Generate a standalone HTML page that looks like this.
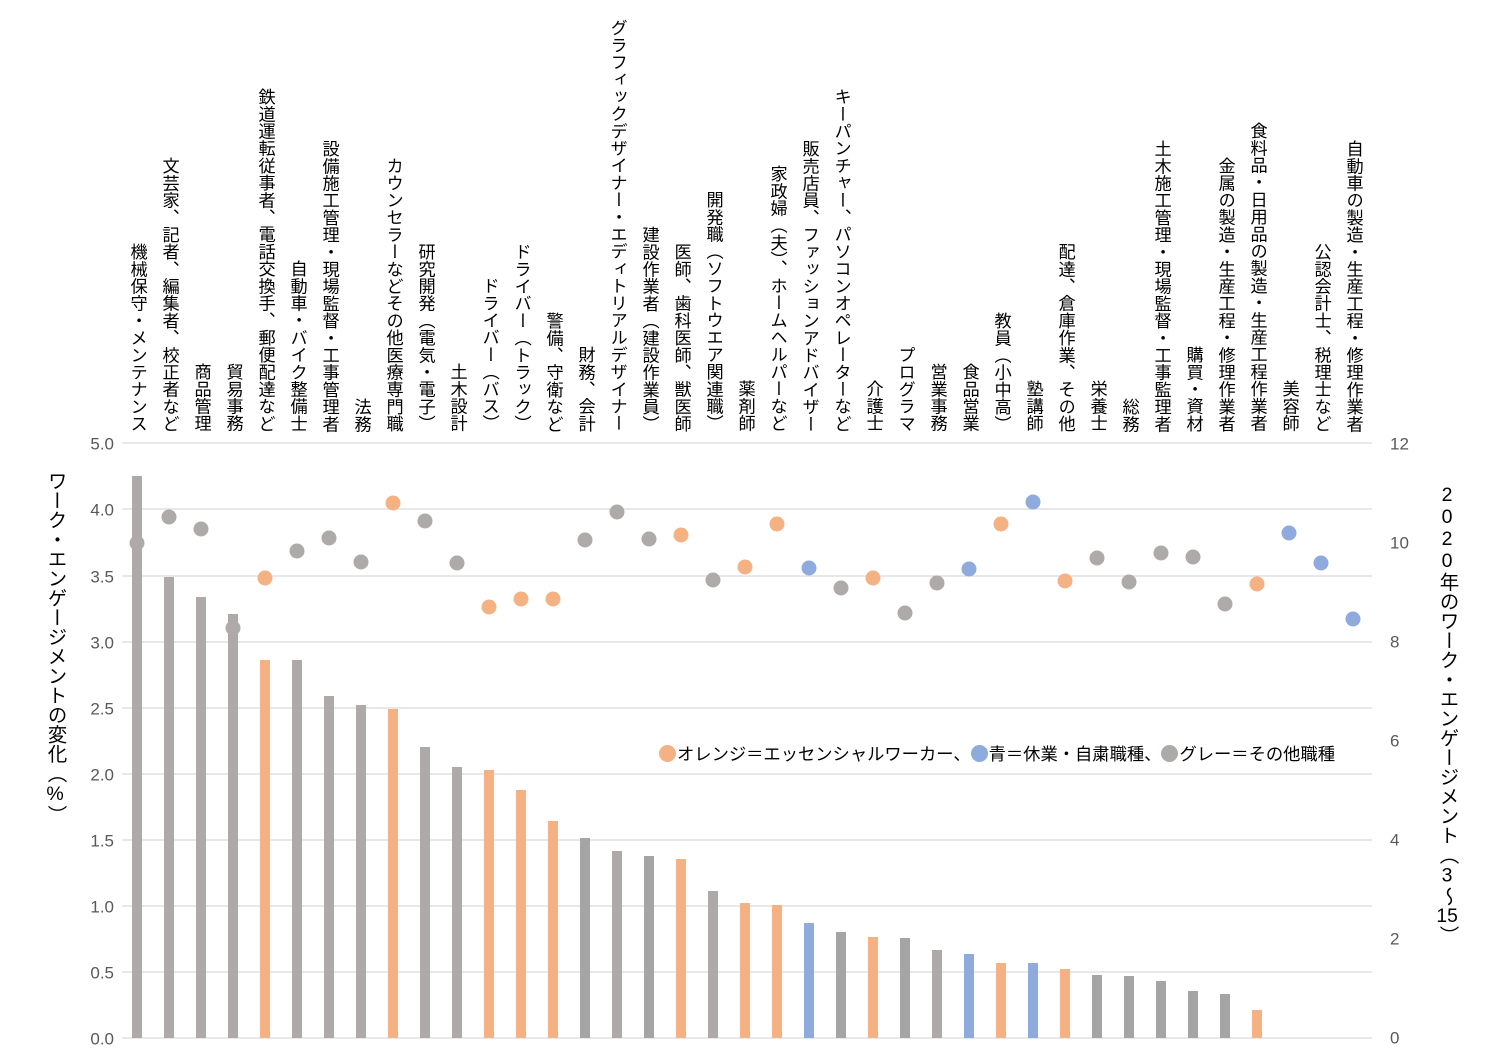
<!DOCTYPE html>
<html lang="ja">
<head>
<meta charset="utf-8">
<style>
  html,body{margin:0;padding:0;background:#fff;}
  body{width:1500px;height:1057px;position:relative;overflow:hidden;
       font-family:"Liberation Sans","Noto Sans CJK JP",sans-serif;}
  svg{position:absolute;left:0;top:0;}
  .cat{position:absolute;bottom:625px;writing-mode:vertical-rl;text-orientation:upright;
       font-family:"Liberation Sans","Noto Sans CJK JP",sans-serif;font-size:17.2px;line-height:17.2px;
       width:17.2px;color:#000;white-space:nowrap;}
  .title{position:absolute;writing-mode:vertical-rl;text-orientation:upright;
       font-family:"Liberation Sans","Noto Sans CJK JP",sans-serif;font-size:19.5px;line-height:20px;
       width:20px;color:#000;white-space:nowrap;}
  .tcu{text-combine-upright:all;}
  .legend{position:absolute;left:659px;top:742px;height:24px;font-size:17.3px;line-height:24px;
       font-family:"Liberation Sans","Noto Sans CJK JP",sans-serif;color:#000;white-space:nowrap;}
  .legend .d{display:inline-block;width:17px;height:17px;border-radius:50%;vertical-align:-2px;margin-right:1px;}
</style>
</head>
<body>
<svg width="1500" height="1057" viewBox="0 0 1500 1057" xmlns="http://www.w3.org/2000/svg">
  <g stroke="#d9d9d9" stroke-width="1.3">
    <line x1="122" y1="443" x2="1372" y2="443"/>
    <line x1="122" y1="509" x2="1372" y2="509"/>
    <line x1="122" y1="576" x2="1372" y2="576"/>
    <line x1="122" y1="642" x2="1372" y2="642"/>
    <line x1="122" y1="708" x2="1372" y2="708"/>
    <line x1="122" y1="774" x2="1372" y2="774"/>
    <line x1="122" y1="840" x2="1372" y2="840"/>
    <line x1="122" y1="906" x2="1372" y2="906"/>
    <line x1="122" y1="972" x2="1372" y2="972"/>
    <line x1="122" y1="1038" x2="1372" y2="1038"/>
  </g>
  <g font-family="Liberation Sans, sans-serif" font-size="17" fill="#595959" text-anchor="end" dominant-baseline="central">
    <text x="114" y="444">5.0</text>
    <text x="114" y="510">4.0</text>
    <text x="114" y="577">3.5</text>
    <text x="114" y="643">3.0</text>
    <text x="114" y="709">2.5</text>
    <text x="114" y="775">2.0</text>
    <text x="114" y="841">1.5</text>
    <text x="114" y="907">1.0</text>
    <text x="114" y="973">0.5</text>
    <text x="114" y="1039">0.0</text>
  </g>
  <g font-family="Liberation Sans, sans-serif" font-size="17" fill="#595959" text-anchor="start" dominant-baseline="central">
    <text x="1390" y="444">12</text>
    <text x="1390" y="543">10</text>
    <text x="1390" y="642">8</text>
    <text x="1390" y="741">6</text>
    <text x="1390" y="840">4</text>
    <text x="1390" y="939">2</text>
    <text x="1390" y="1038">0</text>
  </g>
  <!-- bars -->
  <g>
    <rect x="132" y="476" width="10" height="562" fill="#aeaaaa"/>
    <rect x="164" y="577" width="10" height="461" fill="#aeaaaa"/>
    <rect x="196" y="597" width="10" height="441" fill="#aeaaaa"/>
    <rect x="228" y="614" width="10" height="424" fill="#aeaaaa"/>
    <rect x="260" y="660" width="10" height="378" fill="#f4b183"/>
    <rect x="292" y="660" width="10" height="378" fill="#aeaaaa"/>
    <rect x="324" y="696" width="10" height="342" fill="#aeaaaa"/>
    <rect x="356" y="705" width="10" height="333" fill="#aeaaaa"/>
    <rect x="388" y="709" width="10" height="329" fill="#f4b183"/>
    <rect x="420" y="747" width="10" height="291" fill="#aeaaaa"/>
    <rect x="452" y="767" width="10" height="271" fill="#aeaaaa"/>
    <rect x="484" y="770" width="10" height="268" fill="#f4b183"/>
    <rect x="516" y="790" width="10" height="248" fill="#f4b183"/>
    <rect x="548" y="821" width="10" height="217" fill="#f4b183"/>
    <rect x="580" y="838" width="10" height="200" fill="#a5a5a5"/>
    <rect x="612" y="851" width="10" height="187" fill="#aeaaaa"/>
    <rect x="644" y="856" width="10" height="182" fill="#a5a5a5"/>
    <rect x="676" y="859" width="10" height="179" fill="#f4b183"/>
    <rect x="708" y="891" width="10" height="147" fill="#aeaaaa"/>
    <rect x="740" y="903" width="10" height="135" fill="#f4b183"/>
    <rect x="772" y="905" width="10" height="133" fill="#f4b183"/>
    <rect x="804" y="923" width="10" height="115" fill="#8faadc"/>
    <rect x="836" y="932" width="10" height="106" fill="#a5a5a5"/>
    <rect x="868" y="937" width="10" height="101" fill="#f4b183"/>
    <rect x="900" y="938" width="10" height="100" fill="#a5a5a5"/>
    <rect x="932" y="950" width="10" height="88" fill="#aeaaaa"/>
    <rect x="964" y="954" width="10" height="84" fill="#8faadc"/>
    <rect x="996" y="963" width="10" height="75" fill="#f4b183"/>
    <rect x="1028" y="963" width="10" height="75" fill="#8faadc"/>
    <rect x="1060" y="969" width="10" height="69" fill="#f4b183"/>
    <rect x="1092" y="975" width="10" height="63" fill="#a5a5a5"/>
    <rect x="1124" y="976" width="10" height="62" fill="#a5a5a5"/>
    <rect x="1156" y="981" width="10" height="57" fill="#a5a5a5"/>
    <rect x="1188" y="991" width="10" height="47" fill="#a5a5a5"/>
    <rect x="1220" y="994" width="10" height="44" fill="#a5a5a5"/>
    <rect x="1252" y="1010" width="10" height="28" fill="#f4b183"/>
  </g>
  <!-- dots -->
  <g>
    <circle cx="137" cy="543" r="7.5" fill="#aeaaaa"/>
    <circle cx="169" cy="517" r="7.5" fill="#aeaaaa"/>
    <circle cx="201" cy="529" r="7.5" fill="#aeaaaa"/>
    <circle cx="233" cy="628" r="7.5" fill="#aeaaaa"/>
    <circle cx="265" cy="578" r="7.5" fill="#f4b183"/>
    <circle cx="297" cy="551" r="7.5" fill="#aeaaaa"/>
    <circle cx="329" cy="538" r="7.5" fill="#aeaaaa"/>
    <circle cx="361" cy="562" r="7.5" fill="#aeaaaa"/>
    <circle cx="393" cy="503" r="7.5" fill="#f4b183"/>
    <circle cx="425" cy="521" r="7.5" fill="#aeaaaa"/>
    <circle cx="457" cy="563" r="7.5" fill="#aeaaaa"/>
    <circle cx="489" cy="607" r="7.5" fill="#f4b183"/>
    <circle cx="521" cy="599" r="7.5" fill="#f4b183"/>
    <circle cx="553" cy="599" r="7.5" fill="#f4b183"/>
    <circle cx="585" cy="540" r="7.5" fill="#aeaaaa"/>
    <circle cx="617" cy="512" r="7.5" fill="#aeaaaa"/>
    <circle cx="649" cy="539" r="7.5" fill="#aeaaaa"/>
    <circle cx="681" cy="535" r="7.5" fill="#f4b183"/>
    <circle cx="713" cy="580" r="7.5" fill="#aeaaaa"/>
    <circle cx="745" cy="567" r="7.5" fill="#f4b183"/>
    <circle cx="777" cy="524" r="7.5" fill="#f4b183"/>
    <circle cx="809" cy="568" r="7.5" fill="#8faadc"/>
    <circle cx="841" cy="588" r="7.5" fill="#aeaaaa"/>
    <circle cx="873" cy="578" r="7.5" fill="#f4b183"/>
    <circle cx="905" cy="613" r="7.5" fill="#aeaaaa"/>
    <circle cx="937" cy="583" r="7.5" fill="#aeaaaa"/>
    <circle cx="969" cy="569" r="7.5" fill="#8faadc"/>
    <circle cx="1001" cy="524" r="7.5" fill="#f4b183"/>
    <circle cx="1033" cy="502" r="7.5" fill="#8faadc"/>
    <circle cx="1065" cy="581" r="7.5" fill="#f4b183"/>
    <circle cx="1097" cy="558" r="7.5" fill="#aeaaaa"/>
    <circle cx="1129" cy="582" r="7.5" fill="#aeaaaa"/>
    <circle cx="1161" cy="553" r="7.5" fill="#aeaaaa"/>
    <circle cx="1193" cy="557" r="7.5" fill="#aeaaaa"/>
    <circle cx="1225" cy="604" r="7.5" fill="#aeaaaa"/>
    <circle cx="1257" cy="584" r="7.5" fill="#f4b183"/>
    <circle cx="1289" cy="533" r="7.5" fill="#8faadc"/>
    <circle cx="1321" cy="563" r="7.5" fill="#8faadc"/>
    <circle cx="1353" cy="619" r="7.5" fill="#8faadc"/>
  </g>
</svg>

<!-- category labels -->
<div class="cat" style="left:128.4px">機械保守・メンテナンス</div>
<div class="cat" style="left:160.4px">文芸家、記者、編集者、校正者など</div>
<div class="cat" style="left:192.4px">商品管理</div>
<div class="cat" style="left:224.4px">貿易事務</div>
<div class="cat" style="left:256.4px">鉄道運転従事者、電話交換手、郵便配達など</div>
<div class="cat" style="left:288.4px">自動車・バイク整備士</div>
<div class="cat" style="left:320.4px">設備施工管理・現場監督・工事管理者</div>
<div class="cat" style="left:352.4px">法務</div>
<div class="cat" style="left:384.4px">カウンセラーなどその他医療専門職</div>
<div class="cat" style="left:416.4px">研究開発（電気・電子）</div>
<div class="cat" style="left:448.4px">土木設計</div>
<div class="cat" style="left:480.4px">ドライバー（バス）</div>
<div class="cat" style="left:512.4px">ドライバー（トラック）</div>
<div class="cat" style="left:544.4px">警備、守衛など</div>
<div class="cat" style="left:576.4px">財務、会計</div>
<div class="cat" style="left:608.4px">グラフィックデザイナー・エディトリアルデザイナー</div>
<div class="cat" style="left:640.4px">建設作業者（建設作業員）</div>
<div class="cat" style="left:672.4px">医師、歯科医師、獣医師</div>
<div class="cat" style="left:704.4px">開発職（ソフトウエア関連職）</div>
<div class="cat" style="left:736.4px">薬剤師</div>
<div class="cat" style="left:768.4px">家政婦（夫）、ホームヘルパーなど</div>
<div class="cat" style="left:800.4px">販売店員、ファッションアドバイザー</div>
<div class="cat" style="left:832.4px">キーパンチャー、パソコンオペレーターなど</div>
<div class="cat" style="left:864.4px">介護士</div>
<div class="cat" style="left:896.4px">プログラマ</div>
<div class="cat" style="left:928.4px">営業事務</div>
<div class="cat" style="left:960.4px">食品営業</div>
<div class="cat" style="left:992.4px">教員（小中高）</div>
<div class="cat" style="left:1024.4px">塾講師</div>
<div class="cat" style="left:1056.4px">配達、倉庫作業、その他</div>
<div class="cat" style="left:1088.4px">栄養士</div>
<div class="cat" style="left:1120.4px">総務</div>
<div class="cat" style="left:1152.4px">土木施工管理・現場監督・工事監理者</div>
<div class="cat" style="left:1184.4px">購買・資材</div>
<div class="cat" style="left:1216.4px">金属の製造・生産工程・修理作業者</div>
<div class="cat" style="left:1248.4px">食料品・日用品の製造・生産工程作業者</div>
<div class="cat" style="left:1280.4px">美容師</div>
<div class="cat" style="left:1312.4px">公認会計士、税理士など</div>
<div class="cat" style="left:1344.4px">自動車の製造・生産工程・修理作業者</div>

<!-- axis titles -->
<div class="title" style="left:45px;top:471px">ワーク・エンゲージメントの変化（%）</div>
<div class="title" style="left:1437px;top:484px">2020年のワーク・エンゲージメント（3～<span class="tcu">15</span>）</div>

<!-- legend -->
<div class="legend"><span class="d" style="background:#f4b183"></span>オレンジ＝エッセンシャルワーカー、<span class="d" style="background:#8faadc"></span>青＝休業・自粛職種、<span class="d" style="background:#aeaaaa"></span>グレー＝その他職種</div>
</body>
</html>
